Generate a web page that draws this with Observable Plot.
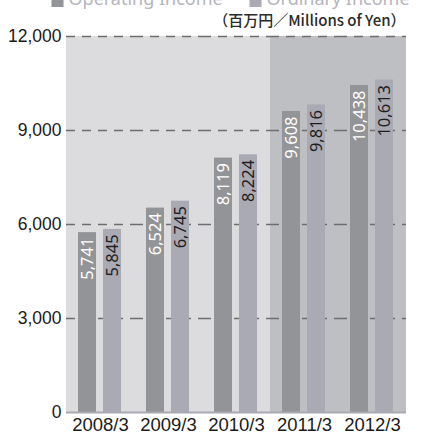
<!DOCTYPE html>
<html>
<head>
<meta charset="utf-8">
<script src="https://cdn.jsdelivr.net/npm/d3@7"></script>
<script src="https://cdn.jsdelivr.net/npm/@observablehq/plot@0.6"></script>
<style>
  html, body { margin: 0; padding: 0; background: #ffffff; overflow: hidden; }
  #chart svg { display: block; }
</style>
</head>
<body>
<div id="chart"></div>
<script>
// ---- data ----
const years = ["2008/3", "2009/3", "2010/3", "2011/3", "2012/3"];
const operatingIncome = [5741, 6524, 8119, 9608, 10438];
const ordinaryIncome = [5845, 6745, 8224, 9816, 10613];
const seriesNames = ["Operating Income", "Ordinary Income"];
const yTicks = [0, 3000, 6000, 9000, 12000];
const yMax = 12000;
const highlightedYears = ["2011/3", "2012/3"];
const unitLabel = "（百万円／Millions of Yen）";

// ---- styles ----
const bgLight = "#dcdcdf";
const bgDark = "#bebfc3";
const opColor = "#939497";
const ordColor = "#aaaab4";
const legendText = "#b5b5bd";

const rows = years.flatMap((year, i) => [
  {year, series: seriesNames[0], value: operatingIncome[i]},
  {year, series: seriesNames[1], value: ordinaryIncome[i]}
]);
const opRows = rows.filter(d => d.series === seriesNames[0]);
const ordRows = rows.filter(d => d.series === seriesNames[1]);
const fmt = d3.format(",");
const tickFont = "'Liberation Sans', Arial, sans-serif";
const labelFont = "'Noto Sans', 'Open Sans', sans-serif";

const chart = Plot.plot({
  width: 434,
  height: 432,
  marginLeft: 65,
  marginRight: 28,
  marginTop: 36,
  marginBottom: 20,
  style: {background: "transparent", overflow: "visible"},
  fx: {domain: years, padding: 0, label: null},
  x: {domain: seriesNames, paddingInner: 0.27, paddingOuter: 0.45, axis: null},
  y: {domain: [0, yMax], axis: null},
  marks: [
    // background panels
    Plot.barY(years.filter(y => !highlightedYears.includes(y)), {fx: d => d, y1: 0, y2: yMax, fill: bgLight}),
    Plot.barY(highlightedYears, {fx: d => d, y1: 0, y2: yMax, fill: bgDark}),
    // dashed grid
    Plot.ruleY(yTicks.filter(t => t > 0), {stroke: "#6e6e6e", strokeWidth: 1.5, strokeDasharray: "9,7"}),
    // bars
    Plot.barY(opRows, {fx: "year", x: "series", y: "value", fill: opColor}),
    Plot.barY(ordRows, {fx: "year", x: "series", y: "value", fill: ordColor}),
    // baseline
    Plot.ruleY([0], {stroke: "#a9a9b3", strokeWidth: 2}),
    // value labels
    Plot.text(opRows, {fx: "year", x: "series", y: "value", text: d => fmt(d.value), rotate: -90,
      textAnchor: "end", lineAnchor: "middle", dy: 5, fill: "#ffffff", fontSize: 16.5, fontFamily: labelFont}),
    Plot.text(ordRows, {fx: "year", x: "series", y: "value", text: d => fmt(d.value), rotate: -90,
      textAnchor: "end", lineAnchor: "middle", dy: 5, fill: "#1e1e1e", fontSize: 16.5, fontFamily: labelFont}),
    // axes
    Plot.axisY({ticks: yTicks, tickFormat: fmt, tickSize: 0, tickPadding: 5, fontSize: 17.5,
      fontFamily: tickFont, fill: "#1a1a1a", label: null}),
    Plot.axisFx({anchor: "bottom", tickSize: 0, tickPadding: 5, fontSize: 18.5,
      fontFamily: tickFont, fill: "#1a1a1a", label: null}),
    // legend (cut off at top, as in the original)
    Plot.dot([years[0]], {fx: d => d, frameAnchor: "top-left", dx: -9, dy: -35.5, symbol: "square", r: 6.8, fill: opColor}),
    Plot.text([years[0]], {fx: d => d, frameAnchor: "top-left", dx: 2, dy: -37.5, text: () => seriesNames[0],
      textAnchor: "start", lineAnchor: "middle", fill: legendText, fontSize: 18, fontFamily: labelFont}),
    Plot.dot([years[0]], {fx: d => d, frameAnchor: "top-left", dx: 189, dy: -35.5, symbol: "square", r: 6.8, fill: ordColor}),
    Plot.text([years[0]], {fx: d => d, frameAnchor: "top-left", dx: 200, dy: -37.5, text: () => seriesNames[1],
      textAnchor: "start", lineAnchor: "middle", fill: legendText, fontSize: 18, fontFamily: labelFont}),
    // unit label
    Plot.text([years[4]], {fx: d => d, frameAnchor: "top-right", dx: -1, dy: -15, text: () => unitLabel,
      textAnchor: "end", lineAnchor: "middle", fill: "#2a2a2a", fontSize: 15, fontWeight: 500,
      fontFamily: "'Noto Sans CJK JP', 'Noto Sans', sans-serif"})
  ]
});
document.getElementById("chart").appendChild(chart);
</script>
</body>
</html>
